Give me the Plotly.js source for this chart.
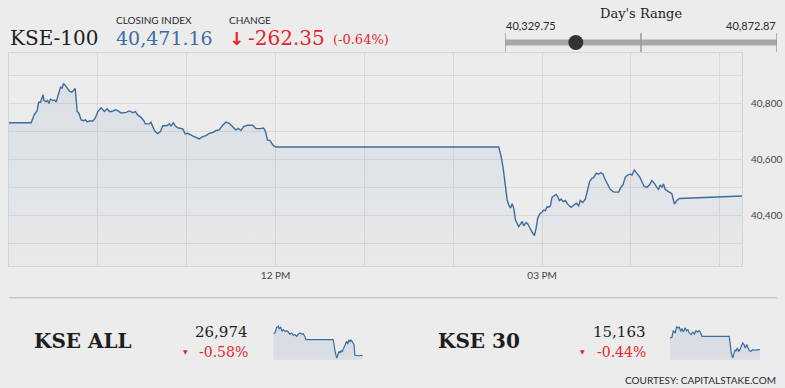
<!DOCTYPE html>
<html>
<head>
<meta charset="utf-8">
<script src="https://cdn.plot.ly/plotly-3.0.1.min.js"></script>
<style>
html,body{margin:0;padding:0;background:#ececec;}
#chart{width:785px;height:388px;}
</style>
</head>
<body>
<div id="chart"></div>
<script>
// ---------- DATA ----------
const DAY = '2020-01-06 ';

// KSE-100 intraday
const kse100Times = ["09:00","09:15","09:17","09:19","09:20","09:21:18","09:23","09:23:36","09:25","09:26",
"09:27","09:28","09:29:40","09:30:44","09:31:53","09:33:26","09:34:47","09:35:56","09:36:49","09:38:38",
"09:40:51","09:42:28","09:43:49","09:44:42","09:46:03","09:47:11","09:48:45","09:50:34","09:51:38","09:52:47",
"09:54:20","09:56:38","09:58:11","10:00:00","10:02:13","10:03:22","10:04:27","10:06:16","10:07:49","10:09:26",
"10:11:52","10:13:29","10:15:43","10:19:05","10:21:18","10:23:36","10:25:21","10:26:58","10:29:11","10:31:01",
"10:32:05","10:34:47","10:35:56","10:37:05","10:38:38","10:40:27","10:42:12","10:43:49","10:46:31","10:48:16",
"10:49:25","10:50:58","10:52:19","10:53:56","10:57:18","10:59:04","11:00:40","11:04:03","11:06:16","11:08:30",
"11:10:47","11:13:01","11:15:14","11:17:32","11:19:45","11:21:59","11:24:16","11:26:30","11:28:43","11:31:01",
"11:33:14","11:34:47","11:36:37","11:38:26","11:41:07","11:44:30","11:46:43","11:49:37","11:51:55","11:52:59",
"11:54:37","11:56:10","11:57:18","11:58:39","12:00:24","14:30:45","14:32:22","14:33:43","14:35:16","14:36:25",
"14:37:29","14:38:38","14:39:47","14:40:52","14:42:00","14:43:09","14:44:14","14:45:23","14:46:31","14:47:36",
"14:49:13","14:50:18","14:51:39","14:53:16","14:54:49","14:55:58","14:57:02","14:58:23","15:00:00","15:01:05",
"15:02:14","15:03:23","15:04:28","15:05:37","15:06:45","15:07:50","15:09:27","15:10:32","15:11:41","15:12:49",
"15:14:10","15:15:43","15:17:16","15:19:34","15:21:19","15:23:08","15:24:41","15:25:50","15:27:23","15:29:12",
"15:30:45","15:32:06","15:33:43","15:34:47","15:36:37","15:38:10","15:39:47","15:41:08","15:42:41","15:44:14",
"15:46:03","15:47:52","15:49:25","15:51:39","15:53:16","15:54:37","15:56:10","15:57:43","15:59:32","16:00:41",
"16:02:14","16:04:03","16:05:48","16:07:25","16:08:58","16:10:47","16:12:32","16:14:10","16:15:43","16:17:32",
"16:18:37","16:19:46","16:20:54","16:21:59","16:23:08","16:25:21","16:27:38","16:29:24","16:31:01","16:32:46",
"17:15:00"];
const kse100Values = [40733,40733,40761,40776,40806,40806,40833,40812,40808,40813,
40802,40817,40812,40814,40807,40832,40860,40857,40873,40862,
40846,40842,40850,40855,40773,40767,40743,40740,40744,40736,
40739,40739,40749,40773,40786,40779,40773,40783,40773,40773,
40779,40776,40768,40770,40775,40769,40773,40760,40752,40740,
40729,40729,40735,40719,40702,40694,40701,40722,40722,40729,
40721,40733,40721,40715,40711,40693,40695,40686,40679,40675,
40683,40687,40695,40698,40705,40707,40724,40735,40731,40719,
40707,40713,40705,40719,40724,40724,40712,40712,40714,40705,
40671,40670,40662,40650,40646,40646,40612,40571,40505,40457,
40439,40428,40443,40428,40386,40374,40362,40371,40380,40365,
40376,40371,40356,40342,40330,40356,40392,40407,40414,40421,
40419,40433,40431,40436,40467,40471,40477,40469,40455,40460,
40451,40455,40442,40431,40439,40445,40436,40455,40448,40460,
40493,40523,40535,40537,40553,40549,40555,40549,40529,40511,
40495,40487,40485,40485,40503,40511,40538,40546,40549,40546,
40564,40552,40540,40522,40505,40502,40511,40526,40517,40502,
40495,40511,40502,40514,40495,40487,40479,40442,40455,40462,
40471];

// KSE ALL sparkline
const kseAllTimes = ["09:00","09:09","09:19","09:28","09:33","09:41","09:48","09:55","10:05","10:14",
"10:23","10:32","10:42","10:51","11:00","11:10","11:18","11:28","11:37","11:46","11:54","12:01",
"14:32","14:36","14:42","14:51","14:57","15:04","15:09","15:15","15:20","15:28","15:37","15:46",
"15:52","15:58","16:05","16:10","16:20","16:27","16:32","16:51","17:15"];
const kseAllValues = [27132,27137,27178,27186,27168,27178,27149,27161,27149,27154,
27144,27129,27137,27120,27124,27113,27129,27137,27129,27132,27113,27088,
27088,27051,27003,26954,26978,27003,26991,27008,26998,27027,27047,27076,
27056,27088,27071,27088,27064,27051,26974,26971,26974];

// KSE 30 sparkline
const kse30Times = ["09:00","09:11","09:18","09:29","09:37","09:44","09:51","09:59","10:06","10:13",
"10:23","10:32","10:39","10:46","10:56","11:05","11:14","11:23","11:32","11:41","11:49","11:56",
"14:26","14:32","14:37","14:45","14:50","14:58","15:03","15:10","15:18","15:25","15:32","15:40",
"15:47","15:54","16:02","16:09","16:16","16:26","16:35","16:44","17:15"];
const kse30Values = [15230,15234,15271,15258,15296,15287,15291,15268,15283,15264,
15287,15271,15277,15258,15249,15264,15252,15271,15264,15271,15258,15239,
15239,15192,15144,15116,15131,15163,15154,15173,15154,15163,15182,15201,
15192,15173,15192,15169,15157,15154,15163,15160,15163];

// Summary numbers / labels
const dayRange = [40329.75, 40872.87];
const dayRangeLabels = ["40,329.75", "40,872.87"];
const closingIndex = 40471.16;
const headerTexts = {name:"KSE-100", closeLbl:"CLOSING INDEX", close:"40,471.16", changeLbl:"CHANGE", change:"-262.35", pct:"(-0.64%)"};
const subIndexNames = ["KSE ALL", "KSE 30"];
const subIndexValues = ["26,974", "15,163"];
const subIndexChanges = ["-0.58%", "-0.44%"];
const xTickVals = ["12:00", "15:00"];
const xTickText = ["12 PM", "03 PM"];

// ---------- LAYOUT HELPERS ----------
const W = 785, H = 388;
const fx = p => p / W;
const fy = p => 1 - p / H;
const SERIF = "DejaVu Serif";
const SANS = "Lato";
const RED = "#e3262d";
const BLUE = "#3a6fa6";
const LINE = "#3d6d9e";
const GRID = "#dadada";

function ann(text, x, y, xanchor, size, color, family, weight) {
  return {
    text: text, xref: 'paper', yref: 'paper', x: fx(x), y: fy(y),
    xanchor: xanchor, yanchor: 'middle', showarrow: false,
    font: {family: family, size: size, color: color, weight: weight || 'normal'}
  };
}

const traces = [
  { // main area
    x: kse100Times.map(t => DAY + t), y: kse100Values,
    type: 'scatter', mode: 'lines', xaxis: 'x', yaxis: 'y',
    line: {color: LINE, width: 1.4},
    fill: 'tozeroy',
    fillgradient: {type: 'vertical', start: 40221, stop: 40900,
      colorscale: [[0, 'rgba(70,120,170,0.03)'], [1, 'rgba(70,120,170,0.11)']]},
    hoverinfo: 'skip'
  },
  { // KSE ALL spark
    x: kseAllTimes.map(t => DAY + t), y: kseAllValues,
    type: 'scatter', mode: 'lines', xaxis: 'x2', yaxis: 'y2',
    line: {color: LINE, width: 1.2}, fill: 'tozeroy', fillcolor: 'rgba(70,120,170,0.12)', hoverinfo: 'skip'
  },
  { // KSE 30 spark
    x: kse30Times.map(t => DAY + t), y: kse30Values,
    type: 'scatter', mode: 'lines', xaxis: 'x3', yaxis: 'y3',
    line: {color: LINE, width: 1.2}, fill: 'tozeroy', fillcolor: 'rgba(70,120,170,0.12)', hoverinfo: 'skip'
  },
  { // day's range bar
    x: dayRange, y: [0.5, 0.5], type: 'scatter', mode: 'lines', xaxis: 'x4', yaxis: 'y4',
    line: {color: '#a8a8a8', width: 6}, cliponaxis: false, hoverinfo: 'skip'
  },
  { // day's range marker at close
    x: [closingIndex], y: [0.5], type: 'scatter', mode: 'markers', xaxis: 'x4', yaxis: 'y4',
    marker: {color: '#333333', size: 15}, cliponaxis: false, hoverinfo: 'skip'
  }
];

const sparkX = {visible: false, type: 'date', range: [DAY + '09:00', DAY + '17:15']};

const layout = {
  width: W, height: H,
  margin: {l: 0, r: 0, t: 0, b: 0},
  paper_bgcolor: '#ececec', plot_bgcolor: 'rgba(0,0,0,0)',
  showlegend: false,
  xaxis: {
    domain: [fx(9), fx(742)], type: 'date',
    range: [DAY + '09:00', DAY + '17:15'],
    tickmode: 'array', tickvals: xTickVals.map(t => DAY + t), ticktext: xTickText,
    showgrid: true, gridcolor: GRID, gridwidth: 1,
    minor: {tickmode: 'linear', tick0: DAY + '09:00', dtick: 3600000, showgrid: true, gridcolor: GRID, gridwidth: 1},
    showline: true, mirror: true, linecolor: '#d4d4d4', linewidth: 1,
    ticks: '', tickfont: {family: SANS, size: 10, color: '#444'},
    zeroline: false, fixedrange: true, anchor: 'y'
  },
  yaxis: {
    domain: [fy(266), fy(53.3)], range: [40221, 40981], side: 'right',
    tickmode: 'linear', tick0: 40000, dtick: 200, tickformat: ',d',
    minor: {tick0: 40000, dtick: 100, showgrid: true, gridcolor: GRID, gridwidth: 1},
    showgrid: true, gridcolor: GRID, gridwidth: 1,
    showline: true, mirror: true, linecolor: '#d4d4d4', linewidth: 1,
    ticks: '', ticklabelstandoff: 6, tickfont: {family: SANS, size: 10, color: '#444'},
    zeroline: false, fixedrange: true, anchor: 'x'
  },
  xaxis2: Object.assign({domain: [fx(273.3), fx(362.7)], anchor: 'y2'}, sparkX),
  yaxis2: {domain: [fy(359.7), fy(323)], range: [26942, 27210], visible: false, anchor: 'x2'},
  xaxis3: Object.assign({domain: [fx(670), fx(760)], anchor: 'y3'}, sparkX),
  yaxis3: {domain: [fy(359.7), fy(323)], range: [15106, 15315], visible: false, anchor: 'x3'},
  xaxis4: {domain: [fx(505), fx(777)], range: dayRange, visible: false, anchor: 'y4'},
  yaxis4: {domain: [fy(52), fy(33)], range: [0, 1], visible: false, anchor: 'x4'},
  shapes: [
    {type: 'line', xref: 'x4', yref: 'y4', x0: dayRange[0], x1: dayRange[0], y0: 0, y1: 1, line: {color: '#9a9a9a', width: 1.5}},
    {type: 'line', xref: 'x4', yref: 'y4', x0: (dayRange[0] + dayRange[1]) / 2, x1: (dayRange[0] + dayRange[1]) / 2, y0: 0, y1: 1, line: {color: '#9a9a9a', width: 1.5}},
    {type: 'line', xref: 'x4', yref: 'y4', x0: dayRange[1], x1: dayRange[1], y0: 0, y1: 1, line: {color: '#9a9a9a', width: 1.5}},
    {type: 'line', xref: 'paper', yref: 'paper', x0: fx(9), x1: fx(777), y0: fy(297.7), y1: fy(297.7), line: {color: '#c8c8c8', width: 1.5}}
  ],
  annotations: [
    ann(headerTexts.name, 8, 38.5, 'left', 20, '#1e1e1e', SERIF),
    ann(headerTexts.closeLbl, 114, 19.5, 'left', 10, '#2a2a2a', SANS),
    ann(headerTexts.close, 114, 38.5, 'left', 19, BLUE, SERIF),
    ann(headerTexts.changeLbl, 227, 19.5, 'left', 10, '#2a2a2a', SANS),
    ann('↓', 227, 39, 'left', 18, RED, 'DejaVu Sans', 'bold'),
    ann(headerTexts.change, 246, 38.5, 'left', 20, RED, SERIF),
    ann(headerTexts.pct, 331, 40, 'left', 13, RED, SERIF),
    ann("Day's Range", 641, 14, 'center', 13, '#1e1e1e', SERIF),
    ann(dayRangeLabels[0], 504, 25.5, 'left', 11, '#2a2a2a', SANS),
    ann(dayRangeLabels[1], 778, 25.5, 'right', 11, '#2a2a2a', SANS),

    ann(subIndexNames[0], 32, 341, 'left', 20, '#1e1e1e', SERIF, 'bold'),
    ann(subIndexValues[0], 250, 332, 'right', 15, '#1e1e1e', SERIF),
    ann(subIndexChanges[0], 250, 352, 'right', 14, RED, SERIF),
    ann('▼', 185.5, 351.5, 'center', 6, RED, 'DejaVu Sans'),

    ann(subIndexNames[1], 436, 341, 'left', 20, '#1e1e1e', SERIF, 'bold'),
    ann(subIndexValues[1], 648, 332, 'right', 15, '#1e1e1e', SERIF),
    ann(subIndexChanges[1], 648, 352, 'right', 14, RED, SERIF),
    ann('▼', 582, 351.5, 'center', 6, RED, 'DejaVu Sans'),

    ann('COURTESY: CAPITALSTAKE.COM', 778, 379.5, 'right', 10, '#2a2a2a', SANS)
  ]
};

Plotly.newPlot('chart', traces, layout, {displayModeBar: false, staticPlot: true});
</script>
</body>
</html>
